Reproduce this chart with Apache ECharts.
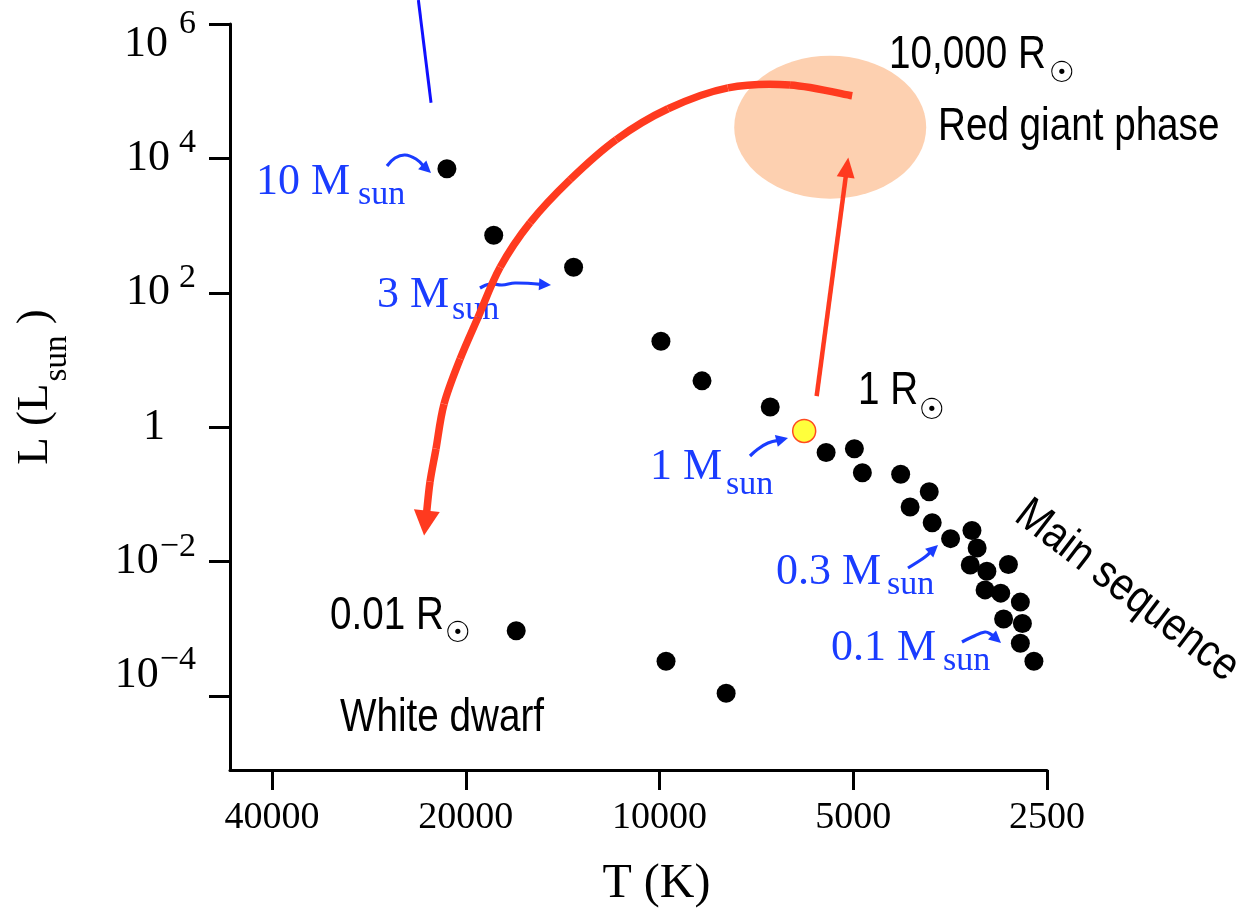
<!DOCTYPE html>
<html>
<head>
<meta charset="utf-8">
<script src="https://cdn.jsdelivr.net/npm/echarts@6/dist/echarts.min.js"></script>
<style>
  html, body { margin: 0; padding: 0; background: #fff; }
  #chart { width: 1248px; height: 913px; }
</style>
</head>
<body>
<div id="chart"></div>
<script>
// ---- Axis ticks ----
const tempTicks = [40000, 20000, 10000, 5000, 2500];          // K
const tempTickLabels = ['40000', '20000', '10000', '5000', '2500'];
const lumTickExps = [-4, -2, 0, 2, 4, 6];                       // log10(L / Lsun)

// ---- Main-sequence stars (T in K, L in Lsun) ----
const starTemps = [21400, 18100, 13600, 9950, 8590, 6730, 5510, 4980, 4840, 4220, 3810, 4080, 3770,
                   3530, 3270, 3210, 3290, 3100, 2870, 3120, 2950, 2750, 2920, 2730, 2750, 2620];
const starLums = [7000, 720, 240, 19, 4.9, 2.0, 0.42, 0.48, 0.21, 0.20, 0.11, 0.065, 0.038,
                  0.022, 0.029, 0.016, 0.0089, 0.0072, 0.0091, 0.0038, 0.0034, 0.0025, 0.0014, 0.0012, 0.00061, 0.00033];

// ---- The Sun ----
const sunTemps = [5960];
const sunLums = [0.88];

// ---- White dwarfs ----
const dwarfTemps = [16700, 9770, 7880];
const dwarfLums = [0.00094, 0.00033, 0.00011];

// ---- Track from the red giant phase down to the white dwarf (last point = arrow tip) ----
const trackTemps = [5020, 6270, 7830, 9700, 11680, 13770, 15890, 17690, 19140, 20410, 21620, 22250, 22730, 22970, 23220];
const trackLums = [85500, 124000, 112000, 54800, 19000, 4840, 1110, 240, 43.4, 10.4, 2.22, 0.479, 0.155, 0.0556, 0.0245];

// ---- Sun leaving the main sequence towards the red giant phase ----
const riseTemps = [5700, 5090];
const riseLums = [2.9, 10300];

// ---- Red giant region ----
const giantTemps = [5430];
const giantLums = [29100];

// ---- Pointer line ----
const pointerTemps = [23700, 22650];
const pointerLums = [2270000, 67300];

const log10 = Math.log10;
const pairs = (ts, ls) => ts.map((t, i) => [log10(t), log10(ls[i])]);

const SERIF = '"Liberation Serif", "Times New Roman", serif';
const SANS = '"Liberation Sans", Arial, sans-serif';
const BLUE = '#1a3cff';
const RED = '#ff3a1f';

const tempTickLogs = tempTicks.map(log10);

// rich styles for the luminosity tick labels (10 with a raised exponent)
const lumRich = {
  b:  { fontFamily: SERIF, fontSize: 44, color: '#000' },
  s:  { fontFamily: SERIF, fontSize: 34, color: '#000', padding: [0, 0, 30, 9] },
  sn: { fontFamily: SERIF, fontSize: 34, color: '#000', padding: [0, 0, 30, 1] },
  bT: { fontFamily: SERIF, fontSize: 44, color: '#000', padding: [40, 0, 0, 0] },
  sT: { fontFamily: SERIF, fontSize: 34, color: '#000', padding: [0, 0, 0, 11] },
  bB: { fontFamily: SERIF, fontSize: 44, color: '#000', padding: [0, 0, 42, 0] },
  sB: { fontFamily: SERIF, fontSize: 34, color: '#000', padding: [0, 0, 72, 1] },
  one:{ fontFamily: SERIF, fontSize: 44, color: '#000', padding: [0, 31, 0, 0] }
};

const chart = echarts.init(document.getElementById('chart'), null, { renderer: 'canvas' });

chart.setOption({
  animation: false,
  backgroundColor: '#fff',
  grid: { left: 230, right: 201, top: 24, bottom: 141 },
  xAxis: {
    type: 'value',
    inverse: true,
    min: log10(2500),
    max: log10(46500),
    axisLine: { show: true, onZero: false, lineStyle: { color: '#000', width: 3 } },
    axisTick: { show: true, customValues: tempTickLogs, length: 20, lineStyle: { color: '#000', width: 3 } },
    axisLabel: {
      show: true,
      customValues: tempTickLogs,
      margin: 29,
      color: '#000',
      fontFamily: SERIF,
      fontSize: 38,
      formatter: v => {
        const i = tempTickLogs.findIndex(t => Math.abs(t - v) < 1e-6);
        return i >= 0 ? tempTickLabels[i] : '';
      }
    },
    splitLine: { show: false },
    name: 'T (K)',
    nameLocation: 'middle',
    nameGap: 90,
    nameTextStyle: { fontFamily: SERIF, fontSize: 48, color: '#000', padding: [0, 0, 0, 36] }
  },
  yAxis: {
    type: 'value',
    min: -5.1,
    max: 6,
    axisLine: { show: true, onZero: false, lineStyle: { color: '#000', width: 3 } },
    axisTick: { show: true, customValues: lumTickExps, length: 21, lineStyle: { color: '#000', width: 3 } },
    axisLabel: {
      show: true,
      customValues: lumTickExps,
      margin: 34,
      align: 'right',
      formatter: v => {
        const e = Math.round(v);
        if (e === 0) return '{one|1}';
        const exp = e < 0 ? '\u2212' + (-e) : String(e);
        if (e === 6) return '{bT|10}{sT|' + exp + '}';
        if (e === -4) return '{bB|10}{sB|' + exp + '}';
        return '{b|10}{' + (e < 0 ? 'sn' : 's') + '|' + exp + '}';
      },
      rich: lumRich
    },
    splitLine: { show: false },
    name: '{a|L (L}{s|sun}{a| )}',
    nameLocation: 'middle',
    nameRotate: 90,
    nameGap: 156,
    nameTextStyle: {
      padding: [0, 0, 0, 20],
      rich: {
        a: { fontFamily: SERIF, fontSize: 45, color: '#000' },
        s: { fontFamily: SERIF, fontSize: 33, color: '#000', padding: [44, 0, 0, 2] }
      }
    }
  },
  series: [
    {
      name: 'Stars',
      type: 'scatter',
      data: pairs(starTemps, starLums),
      symbol: 'circle',
      symbolSize: 19,
      itemStyle: { color: '#000', opacity: 1 },
      z: 3
    },
    {
      name: 'White dwarfs',
      type: 'scatter',
      data: pairs(dwarfTemps, dwarfLums),
      symbol: 'circle',
      symbolSize: 19,
      itemStyle: { color: '#000', opacity: 1 },
      z: 3
    },
    {
      name: 'Sun',
      type: 'scatter',
      data: pairs(sunTemps, sunLums),
      symbol: 'circle',
      symbolSize: 23,
      itemStyle: { color: '#ffff3c', borderColor: '#ff4b1f', borderWidth: 1.5, opacity: 1 },
      z: 4
    }
  ]
});

// ---- Annotations placed through the grid's coordinate system ----
const px = (t, l) => chart.convertToPixel({ gridIndex: 0 }, [log10(t), log10(l)]);

function arrowHead(tip, from, len, hw) {
  const dx = tip[0] - from[0], dy = tip[1] - from[1];
  const d = Math.hypot(dx, dy);
  const ux = dx / d, uy = dy / d;
  const bx = tip[0] - ux * len, by = tip[1] - uy * len;
  return {
    base: [bx + ux * 2, by + uy * 2],
    points: [[tip[0], tip[1]], [bx - uy * hw, by + ux * hw], [bx + uy * hw, by - ux * hw]]
  };
}

// Catmull-Rom curve through the given pixel points, as cubic bezier segments
function curveSegments(pts, style, z) {
  const segs = [];
  for (let i = 0; i < pts.length - 1; i++) {
    const p0 = pts[Math.max(i - 1, 0)], p1 = pts[i], p2 = pts[i + 1], p3 = pts[Math.min(i + 2, pts.length - 1)];
    segs.push({
      type: 'bezierCurve', z: z,
      shape: {
        x1: p1[0], y1: p1[1], x2: p2[0], y2: p2[1],
        cpx1: p1[0] + (p2[0] - p0[0]) / 6, cpy1: p1[1] + (p2[1] - p0[1]) / 6,
        cpx2: p2[0] - (p3[0] - p1[0]) / 6, cpy2: p2[1] - (p3[1] - p1[1]) / 6
      },
      style: Object.assign({ fill: null }, style)
    });
  }
  return segs;
}

const graphics = [];

// red giant region
const gc = px(giantTemps[0], giantLums[0]);
graphics.push({
  type: 'circle', x: gc[0], y: gc[1], scaleY: 71.5 / 96, z: 0,
  shape: { cx: 0, cy: 0, r: 96 },
  style: { fill: '#fdd0b0' }
});

// track back down to the white dwarf
const trackPts = trackTemps.map((t, i) => px(t, trackLums[i]));
const trackTip = trackPts[trackPts.length - 1];
const trackHead = arrowHead(trackTip, trackPts[trackPts.length - 3], 25, 13);
const trackLine = trackPts.slice(0, trackPts.length - 2).concat([trackHead.base]);
curveSegments(trackLine, { stroke: RED, lineWidth: 7.5, lineCap: 'butt' }, 10).forEach(s => graphics.push(s));
graphics.push({ type: 'polygon', z: 10, shape: { points: trackHead.points }, style: { fill: RED } });

// main sequence to red giant
const r0 = px(riseTemps[0], riseLums[0]);
const r1 = px(riseTemps[1], riseLums[1]);
const riseHead = arrowHead(r1, r0, 20, 9);
graphics.push({
  type: 'line', z: 10,
  shape: { x1: r0[0], y1: r0[1], x2: riseHead.base[0], y2: riseHead.base[1] },
  style: { stroke: RED, lineWidth: 4.5 }
});
graphics.push({ type: 'polygon', z: 10, shape: { points: riseHead.points }, style: { fill: RED } });

// pointer line
const p0 = px(pointerTemps[0], pointerLums[0]);
const p1 = px(pointerTemps[1], pointerLums[1]);
graphics.push({
  type: 'line', z: 6,
  shape: { x1: p0[0], y1: p0[1], x2: p1[0], y2: p1[1] },
  style: { stroke: '#1010ff', lineWidth: 3 }
});

// ---- Text labels ----
function sansText(text, x, y, extra) {
  return Object.assign({
    type: 'text', x: x, y: y, scaleX: 0.84, z: 5,
    style: { text: text, fontFamily: SANS, fontSize: 46, fill: '#000', align: 'left', verticalAlign: 'middle' }
  }, extra || {});
}
function sunSymbol(x, y) {
  return {
    type: 'text', x: x, y: y, z: 5,
    style: { text: '\u2609', fontFamily: '"DejaVu Sans", sans-serif', fontSize: 29, fill: '#000', align: 'center', verticalAlign: 'middle' }
  };
}
function serifText(text, x, baseline, size, color) {
  return {
    type: 'text', x: x, y: baseline - 0.3375 * size, z: 5,
    style: { text: text, fontFamily: SERIF, fontSize: size, fill: color, align: 'left', verticalAlign: 'middle' }
  };
}

graphics.push(sansText('10,000 R', 889, 55));
graphics.push(sunSymbol(1062, 74));
graphics.push(sansText('Red giant phase', 938, 127));
graphics.push(sansText('1 R', 858, 391));
graphics.push(sunSymbol(932, 411));
graphics.push(sansText('0.01 R', 330, 616));
graphics.push(sunSymbol(458, 634));
graphics.push(sansText('White dwarf', 340, 718));
graphics.push({
  type: 'text', x: 1127, y: 591, rotation: -37.5 * Math.PI / 180, scaleX: 0.86, z: 5,
  style: { text: 'Main sequence', fontFamily: SANS, fontSize: 46, fill: '#000', align: 'center', verticalAlign: 'middle' }
});

// stellar mass labels
const massLabels = [
  { text: '10 M', x: 256, b: 197, sx: 358, sb: 207 },
  { text: '3 M', x: 377, b: 310, sx: 452, sb: 322 },
  { text: '1 M', x: 650, b: 482, sx: 726, sb: 497 },
  { text: '0.3 M', x: 776, b: 587, sx: 887, sb: 597 },
  { text: '0.1 M', x: 831, b: 663, sx: 943, sb: 673 }
];
massLabels.forEach(m => {
  graphics.push(serifText(m.text, m.x, m.b, 44, BLUE));
  graphics.push(serifText('sun', m.sx, m.sb, 34, BLUE));
});

// little curved pointers from the mass labels to their stars
const massArrows = [
  [[387, 166], [395, 158], [405, 155], [416, 159], [431, 173]],
  [[480, 288], [490, 284], [502, 285], [515, 283], [551, 285]],
  [[750, 456], [758, 449], [768, 443], [788, 438]],
  [[908, 568], [916, 563], [925, 557], [938, 545]],
  [[962, 642], [972, 637], [985, 632], [992, 635], [1001, 643]]
];
massArrows.forEach(pts => {
  const tip = pts[pts.length - 1];
  const h = arrowHead(tip, pts[pts.length - 2], 12, 6);
  graphics.push({
    type: 'polyline', z: 6,
    shape: { points: pts.slice(0, pts.length - 1).concat([h.base]), smooth: 0.4 },
    style: { stroke: BLUE, lineWidth: 3.2, fill: null }
  });
  graphics.push({ type: 'polygon', z: 6, shape: { points: h.points }, style: { fill: BLUE } });
});

chart.setOption({ graphic: { elements: graphics } });
</script>
</body>
</html>
